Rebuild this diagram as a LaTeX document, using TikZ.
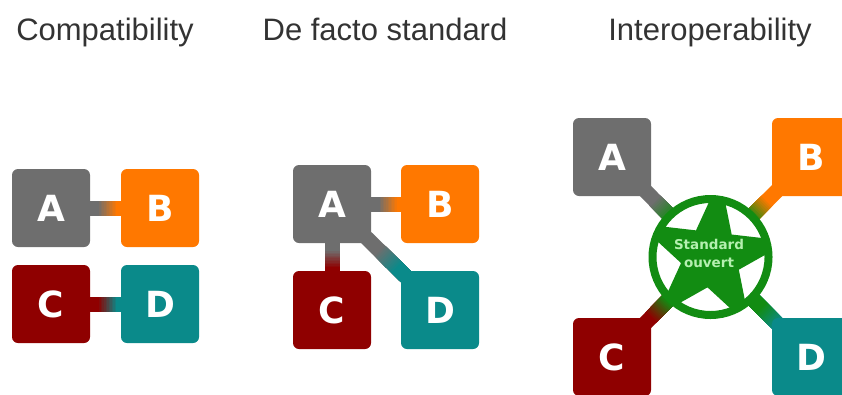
\documentclass[tikz,border=0pt]{standalone}
\usepackage{fontspec}
\setmainfont{Liberation Sans}
\newfontfamily\boldface[Scale=1]{DejaVu Sans Bold}
\usetikzlibrary{calc,shapes.geometric}
\definecolor{cgray}{HTML}{6E6E6E}
\definecolor{corange}{HTML}{FF7800}
\definecolor{cred}{HTML}{8F0000}
\definecolor{cteal}{HTML}{0A8A8A}
\definecolor{cgreen}{HTML}{128C12}
\definecolor{clabel}{HTML}{B5F0B0}
\tikzset{
  box/.style={rounded corners=6pt,minimum size=78pt,inner sep=0pt,text=white,
    font=\boldface\fontsize{36}{36}\selectfont,text height=26pt,text depth=0pt,align=center},
  title/.style={font=\fontsize{31}{34}\selectfont,text=black!80,inner sep=0pt,anchor=base},
  ring/.style={circle,draw=cgreen,line width=8pt,minimum size=116pt,inner sep=0pt},
  stdlabel/.style={font=\boldface\fontsize{13.5}{18}\selectfont,text=clabel,align=center,inner sep=0pt},
}
% gradient connector between two named nodes; optional argument: where the blend starts
\newcommand{\gradlink}[5][0.43]{%
  \draw[line width=15pt,#4] (#2.center) -- (#3.center);
  \foreach \t in {0,...,12}{%
    \pgfmathsetmacro{\pos}{#1+0.014*\t}%
    \pgfmathsetmacro{\mix}{\t*100/12}%
    \draw[line width=15pt,#5!\mix!#4] ($(#2.center)!\pos!(#3.center)$) -- (#3.center);
  }%
}
\begin{document}
\begin{tikzpicture}[x=1pt,y=-1pt]
\useasboundingbox (0,0) rectangle (842,394);
\clip (0,0) rectangle (842,394);
% titles
\node[title] (t1) at (105,40) {Compatibility};
\node[title] (t2) at (385,40) {De facto standard};
\node[title] (t3) at (710,40) {Interoperability};
% coordinates for node centres
\coordinate (la) at (51,208); \coordinate (lb) at (160,208);
\coordinate (lc) at (51,304); \coordinate (ld) at (160,304);
\coordinate (ma) at (332,204); \coordinate (mb) at (440,204);
\coordinate (mc) at (332,310); \coordinate (md) at (440,310);
\coordinate (ra) at (612,157); \coordinate (rb) at (811,157);
\coordinate (rc) at (612,357); \coordinate (rd) at (811,357);
\coordinate (std) at (710.5,257);
% connectors
\gradlink{la}{lb}{cgray}{corange}
\gradlink{lc}{ld}{cred}{cteal}
\gradlink{ma}{mb}{cgray}{corange}
\gradlink{ma}{mc}{cgray}{cred}
\gradlink{ma}{md}{cgray}{cteal}
\gradlink{ra}{std}{cgray}{cgreen}
\gradlink{rb}{std}{corange}{cgreen}
\gradlink[0.39]{rc}{std}{cred}{cgreen}
\gradlink[0.32]{rd}{std}{cteal}{cgreen}
% left group
\node[box,fill=cgray] (A1) at (la) {A};
\node[box,fill=corange] (B1) at (lb) {B};
\node[box,fill=cred] (C1) at (lc) {C};
\node[box,fill=cteal] (D1) at (ld) {D};
% middle group
\node[box,fill=cgray] (A2) at (ma) {A};
\node[box,fill=corange] (B2) at (mb) {B};
\node[box,fill=cred] (C2) at (mc) {C};
\node[box,fill=cteal] (D2) at (md) {D};
% right group
\node[box,fill=cgray] (A3) at (ra) {A};
\node[box,fill=corange] (B3) at (rb) {B};
\node[box,fill=cred] (C3) at (rc) {C};
\node[box,fill=cteal] (D3) at (rd) {D};
% open standard emblem
\fill[white] (std) circle (58pt);
\begin{scope}
  \clip (std) circle (60pt);
  \node[star,star points=5,star point ratio=2.618,minimum size=160pt,inner sep=0pt,
        fill=cgreen,shape border rotate=-6.6] (s) at (711,257) {};
\end{scope}
\node[ring] (ringnode) at (std) {};
\node[stdlabel] (lab) at (709,253) {Standard\\ouvert};
\end{tikzpicture}
\end{document}
